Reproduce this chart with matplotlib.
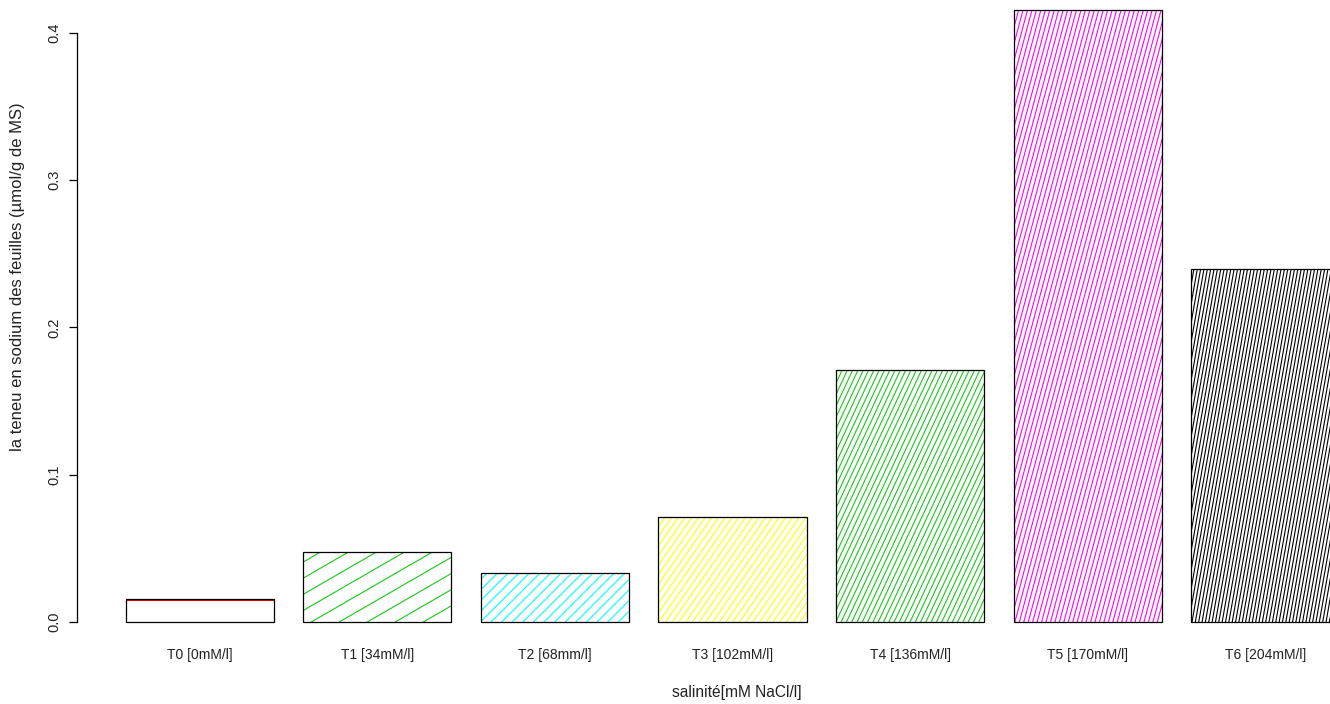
import matplotlib
matplotlib.use('Agg')
import matplotlib.pyplot as plt
import numpy as np
from matplotlib.collections import LineCollection
from matplotlib.transforms import IdentityTransform

plt.rcParams['font.family'] = ['Liberation Sans', 'DejaVu Sans']

# teneur en sodium des feuilles par traitement salin
traitements = ['T0 [0mM/l]', 'T1 [34mM/l]', 'T2 [68mm/l]', 'T3 [102mM/l]',
               'T4 [136mM/l]', 'T5 [170mM/l]', 'T6 [204mM/l]']
sodium = [0.0155, 0.0478, 0.0333, 0.0712, 0.1712, 0.4155, 0.2398]

# couleur, angle et écart (px) des hachures de chaque barre
couleurs = ['red', '#19c819', 'cyan', 'yellow', '#19c819', 'magenta', 'black']
angles = [0, 30, 45, 55, 65, 75, 80]
ecarts = [22, 14, 7.5, 5.5, 4.8, 4.3, 3.3]

W, H = 1330, 704
fig = plt.figure(figsize=(W / 100, H / 100), dpi=100)
ax = fig.add_axes([77 / W, 57.5 / H, 1311 / W, 660.9 / H])

n = len(sodium)
centres = 0.7 + 1.2 * np.arange(n)
bars = ax.bar(centres, sodium, width=1.0, facecolor='none', edgecolor='black',
              linewidth=0.9, zorder=3)

# limites façon R (4 % de marge)
x0, x1 = 0.2, 1.2 * n
ax.set_xlim(x0 - 0.04 * (x1 - x0), x1 + 0.04 * (x1 - x0))
ymax = max(sodium)
ax.set_ylim(-0.04 * ymax, 1.04 * ymax)


def hachures(rect, angle, ecart, couleur):
    (bx0, by0), (bx1, by1) = ax.transData.transform(
        [(rect.get_x(), 0), (rect.get_x() + rect.get_width(), rect.get_height())])
    a = np.radians(angle)
    d = np.array([np.cos(a), np.sin(a)])
    nrm = np.array([-np.sin(a), np.cos(a)])
    coins = np.array([[bx0, by0], [bx1, by0], [bx0, by1], [bx1, by1]])
    proj = coins @ nrm
    diag = np.hypot(bx1 - bx0, by1 - by0)
    centre = np.array([(bx0 + bx1) / 2, (by0 + by1) / 2])
    segs = []
    for p in np.arange(proj.min() + ecart, proj.max(), ecart):
        base = centre + (p - centre @ nrm) * nrm
        segs.append([base - diag * d, base + diag * d])
    lc = LineCollection(segs, colors=couleur, linewidths=0.8,
                        transform=IdentityTransform(), zorder=2)
    ax.add_collection(lc, autolim=False)
    lc.set_clip_path(rect)


for rect, c, a, e in zip(bars, couleurs, angles, ecarts):
    hachures(rect, a, e, c)

for s in ['top', 'right', 'bottom']:
    ax.spines[s].set_visible(False)
ax.spines['left'].set_bounds(0, 0.4)
ax.spines['left'].set_linewidth(0.9)

ax.set_yticks([0, 0.1, 0.2, 0.3, 0.4])
ax.set_yticklabels(['0.0', '0.1', '0.2', '0.3', '0.4'], rotation=90,
                   va='center', fontsize=10.5, color='#222222')
ax.tick_params(axis='y', length=6, width=0.9, pad=5)
ax.set_xticks(centres)
ax.set_xticklabels(traitements, fontsize=10, color='#222222')
ax.tick_params(axis='x', length=0, pad=1)

fig.text(737 / W, 1 - 692 / H, 'salinité[mM NaCl/l]', ha='center', va='center',
         fontsize=11.2, color='#222222')
fig.text(18 / W, 1 - 277 / H, 'la teneu en sodium des feuilles (µmol/g de MS)',
         rotation=90, ha='center', va='center', fontsize=12, color='#222222')

fig.savefig('out.png', dpi=100)
